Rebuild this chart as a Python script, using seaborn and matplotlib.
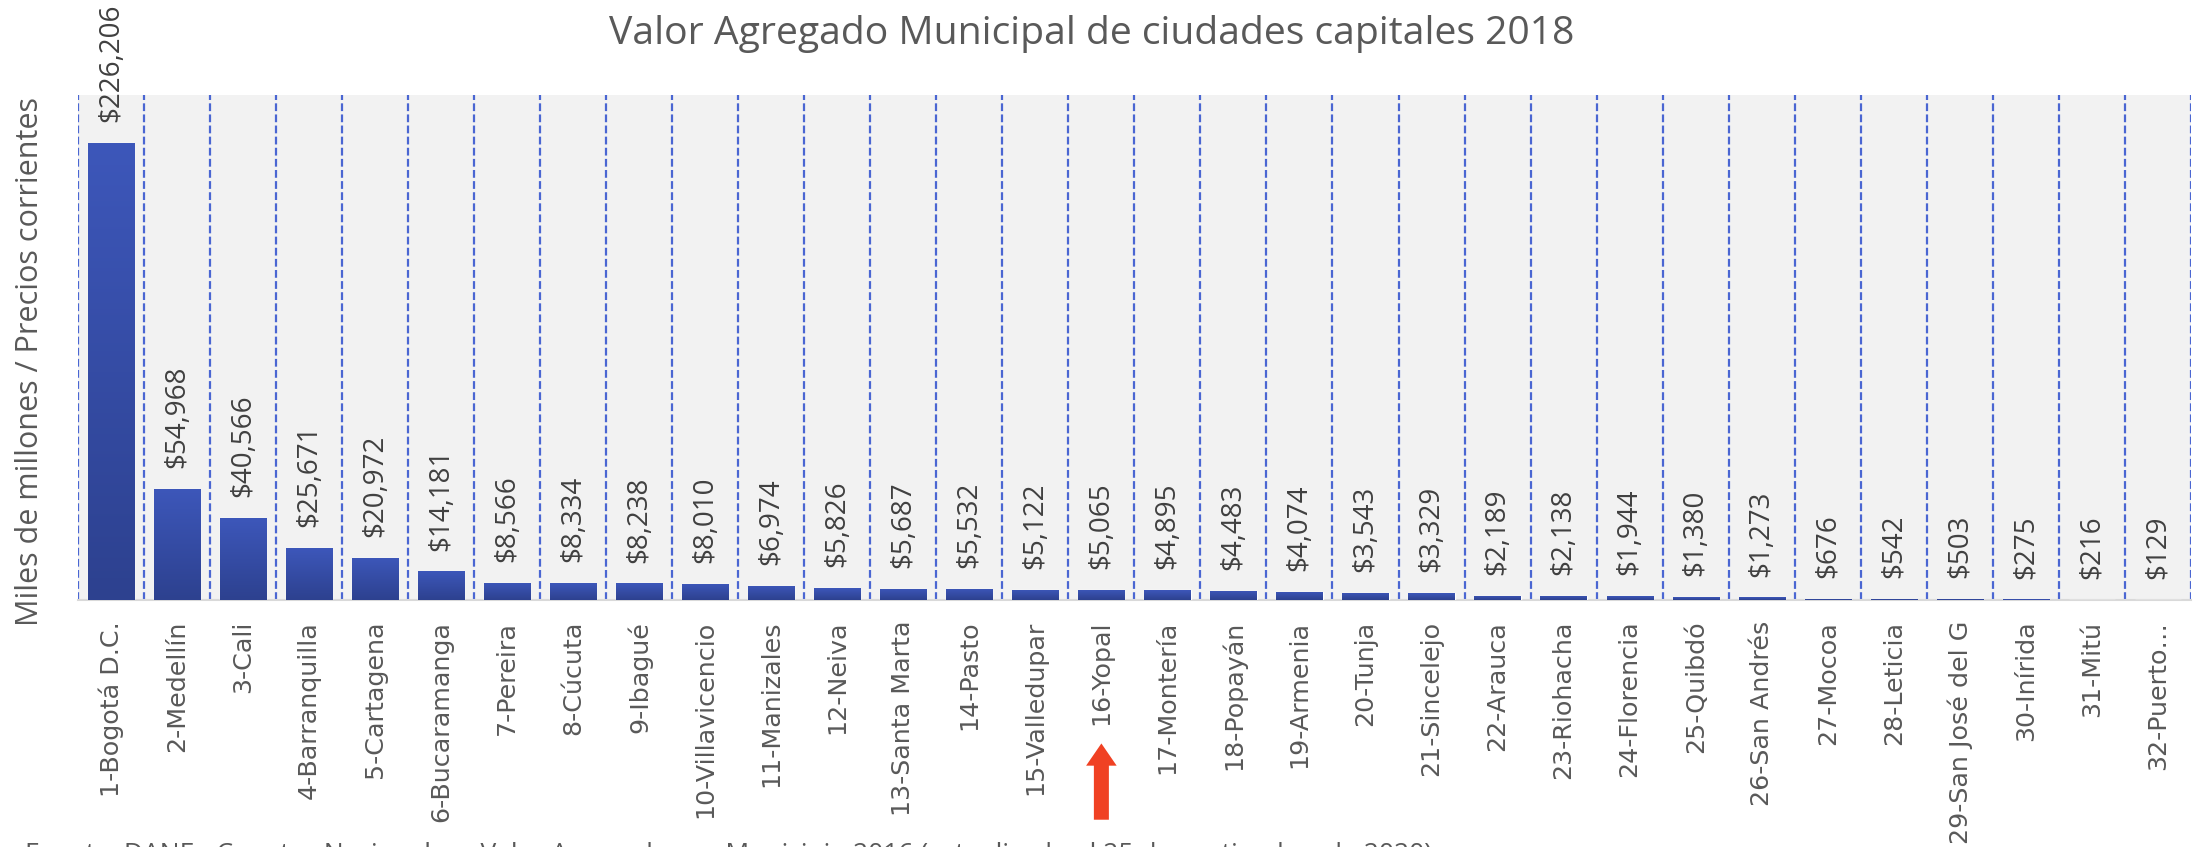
import numpy as np
import pandas as pd
import matplotlib
matplotlib.use('Agg')
import matplotlib.pyplot as plt
import seaborn as sns
from matplotlib.colors import LinearSegmentedColormap

ciudades = ['1-Bogotá D.C.', '2-Medellín', '3-Cali', '4-Barranquilla', '5-Cartagena',
            '6-Bucaramanga', '7-Pereira', '8-Cúcuta', '9-Ibagué', '10-Villavicencio',
            '11-Manizales', '12-Neiva', '13-Santa Marta', '14-Pasto', '15-Valledupar',
            '16-Yopal', '17-Montería', '18-Popayán', '19-Armenia', '20-Tunja',
            '21-Sincelejo', '22-Arauca', '23-Riohacha', '24-Florencia', '25-Quibdó',
            '26-San Andrés', '27-Mocoa', '28-Leticia', '29-San José del G', '30-Inírida',
            '31-Mitú', '32-Puerto…']
valores = [226206, 54968, 40566, 25671, 20972, 14181, 8566, 8334, 8238, 8010,
           6974, 5826, 5687, 5532, 5122, 5065, 4895, 4483, 4074, 3543,
           3329, 2189, 2138, 1944, 1380, 1273, 676, 542, 503, 275, 216, 129]
destacada = '16-Yopal'

titulo = 'Valor Agregado Municipal de ciudades capitales 2018'
eje_y = 'Miles de millones / Precios corrientes'
fuente = ('Fuente: DANE - Cuentas Nacionales - Valor Agregado por Municipio 2016 '
          '(actualizado el 25 de septiembre de 2020)')

df = pd.DataFrame({'ciudad': ciudades, 'valor': valores})

sns.set_style('white')
plt.rcParams['font.family'] = ['Open Sans', 'DejaVu Sans']

gris = '#595959'
fig = plt.figure(figsize=(22.01, 8.47), dpi=100)
ax = fig.add_axes([0.0354, 0.2916, 0.9600, 0.5963])
ax.set_facecolor('#F2F2F2')

sns.barplot(data=df, x='ciudad', y='valor', color='#3A52B2', width=0.70,
            saturation=1, ax=ax, zorder=3)

# degradado vertical en cada barra
cmap = LinearSegmentedColormap.from_list('g', ['#2D418F', '#3D57BA'])
grad = np.linspace(0, 1, 256).reshape(-1, 1)
for p in ax.patches:
    x0, y0 = p.get_x(), p.get_y()
    w, h = p.get_width(), p.get_height()
    im = ax.imshow(grad, cmap=cmap, aspect='auto', origin='lower',
                   extent=[x0, x0 + w, y0, y0 + h], zorder=4)
    im.set_clip_path(p)
ax.set_aspect('auto')
ax.set_xlim(-0.5, len(ciudades) - 0.5)
ax.set_ylim(0, 250000)

# etiquetas de valor
for i, v in enumerate(valores):
    ax.annotate(f'${v:,}', (i, v), xytext=(0, 15), textcoords='offset points',
                rotation=90, ha='center', va='bottom', fontsize=20,
                color='#404040', zorder=5, annotation_clip=False)

# líneas verticales discontinuas entre categorías
ax.set_xticks(np.arange(-0.5, len(ciudades)), minor=True)
ax.grid(which='minor', axis='x', color='#4A66D2', linestyle=(0, (3.5, 1.5)),
        linewidth=1.6, zorder=1)
ax.grid(which='major', visible=False)

ax.set_yticks([])
ax.set_xlabel('')
ax.set_ylabel('')
ax.tick_params(axis='x', which='both', length=0)
ax.tick_params(axis='x', which='major', pad=15)
ax.set_xticks(range(len(ciudades)))
ax.set_xticklabels(ciudades, rotation=90, fontsize=18.3, color=gris,
                   family='DejaVu Sans')
for s in ['top', 'left', 'right']:
    ax.spines[s].set_visible(False)
ax.spines['bottom'].set_color('#D9D9D9')
ax.spines['bottom'].set_linewidth(1.5)

# flecha roja bajo la ciudad destacada
idx = ciudades.index(destacada)
ax.annotate('', xy=(idx, -0.284), xytext=(idx, -0.435),
            xycoords=('data', 'axes fraction'), textcoords=('data', 'axes fraction'),
            arrowprops=dict(facecolor='#F04123', edgecolor='none', width=10.8,
                            headwidth=22, headlength=16, shrink=0))

fig.text(0.496, 0.96, titulo, ha='center', va='center', fontsize=28.2, color=gris)
fig.text(0.0135, 0.573, eje_y, rotation=90, ha='center', va='center',
         fontsize=22, color=gris)
fig.text(0.0114, 0.0059, fuente, ha='left', va='top', fontsize=19, color=gris)

fig.savefig('out.png', dpi=100)
